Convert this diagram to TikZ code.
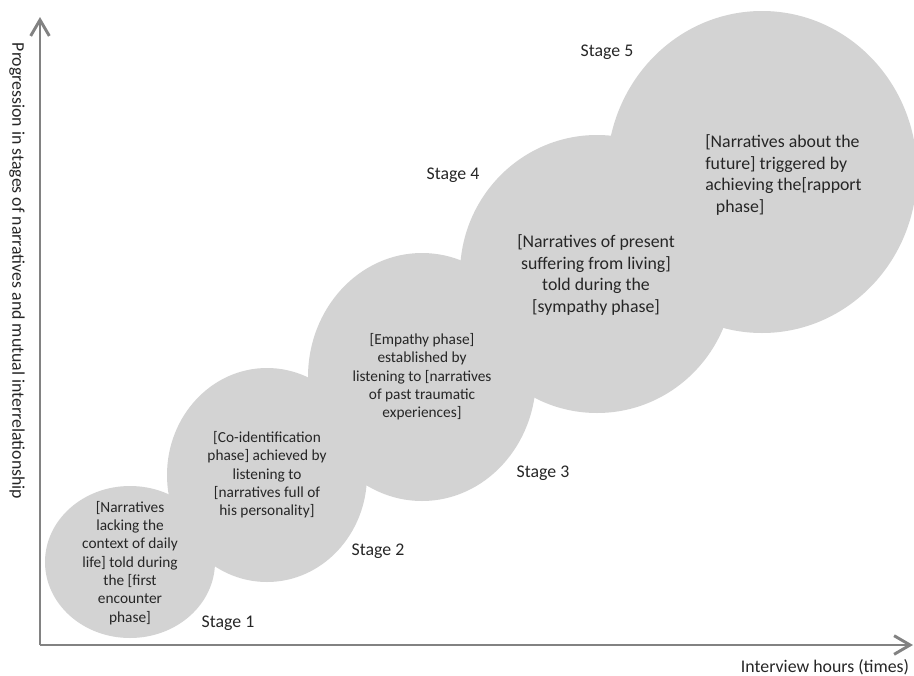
\documentclass[tikz,border=0pt]{standalone}
\usepackage{fontspec}
\setmainfont{Carlito}
\usetikzlibrary{arrows.meta,shapes.geometric}
\definecolor{ellfill}{RGB}{211,211,211}
\definecolor{axisgray}{RGB}{130,130,130}
\definecolor{txtgray}{RGB}{38,38,38}
\begin{document}
\begin{tikzpicture}[x=0.75pt,y=-0.75pt,
  blob/.style={ellipse,fill=ellfill,draw=none,inner sep=0pt},
  bigtext/.style={font=\fontsize{13.35pt}{16.3pt}\selectfont,text=txtgray,inner sep=0pt},
  smalltext/.style={font=\fontsize{11.5pt}{13.75pt}\selectfont,text=txtgray,inner sep=0pt,align=center},
  axisline/.style={draw=axisgray,line width=2.2pt,-{Straight Barb[length=12pt,width=14pt,line width=2.2pt]}}]
\useasboundingbox (0,0) rectangle (914,675);
% stage blobs
\node[blob,minimum width=127.5pt,minimum height=114pt] (e1) at (130,562) {};
\node[blob,minimum width=150pt,minimum height=160.5pt] (e2) at (267,475) {};
\node[blob,minimum width=171pt,minimum height=186pt] (e3) at (422,377) {};
\node[blob,minimum width=205.5pt,minimum height=208.5pt] (e4) at (597,274) {};
\node[blob,minimum width=232.5pt,minimum height=241.5pt] (e5) at (762,172) {};
% texts in blobs
\node[smalltext] (t1) at (130,563) {{[}Narratives\\lacking the\\context of daily\\life] told during\\the [first\\encounter\\phase]};
\node[smalltext] (t2) at (267,475) {{[}Co-identification\\phase] achieved by\\listening to\\{[}narratives full of\\his personality]};
\node[smalltext] (t3) at (422,377) {{[}Empathy phase]\\established by\\listening to [narratives\\of past traumatic\\experiences]};
\node[bigtext,align=center] (t4) at (596,275) {{[}Narratives of present\\suffering from living]\\told during the\\{[}sympathy phase]};
\node[bigtext,align=left,anchor=west] (t5) at (705,175) {{[}Narratives about the\\future] triggered by\\achieving the[rapport\\\hspace*{8pt}phase]};
% stage labels
\node[bigtext] (s1) at (228,623) {Stage 1};
\node[bigtext] (s2) at (378,551) {Stage 2};
\node[bigtext] (s3) at (543,473) {Stage 3};
\node[bigtext] (s4) at (453,175) {Stage 4};
\node[bigtext] (s5) at (607,52) {Stage 5};
% axes
\coordinate (o) at (40,645);
\coordinate (ytop) at (40,17);
\coordinate (xend) at (913,645);
\draw[axisline] (o) -- (ytop);
\draw[axisline] (o) -- (xend);
\node[bigtext,rotate=-90] (ylab) at (17,271) {Progression in stages of narratives and mutual interrelationship};
\node[bigtext] (xlab) at (825,667) {Interview hours (times)};
\end{tikzpicture}
\end{document}
